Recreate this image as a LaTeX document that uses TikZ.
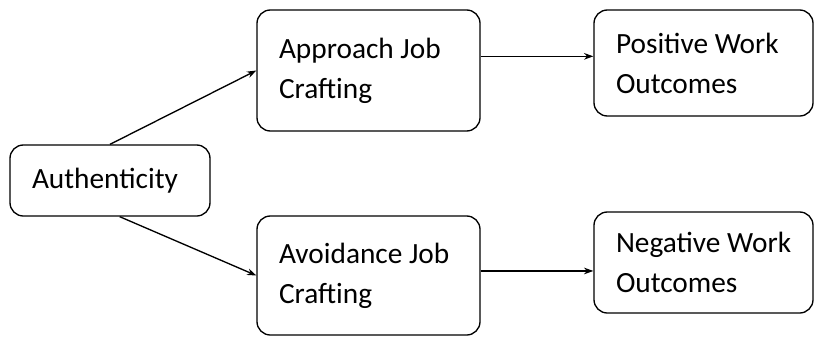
\documentclass[tikz,border=0pt]{standalone}
\usepackage{fontspec}
\setmainfont{Carlito}
\usetikzlibrary{arrows.meta}

\begin{document}
\begin{tikzpicture}[
    x=0.75pt, y=-0.75pt,
    box/.style={draw, line width=1pt, rounded corners=10pt, align=flush left, inner xsep=16.5pt, inner ysep=0pt, font=\fontsize{22}{30}\selectfont},
    arrow/.style={->, line width=1pt, >={Stealth[length=7pt, width=5pt]}}
]
\useasboundingbox (0,0) rectangle (817,336);

% Left node
\node[box, text width=117pt, minimum height=53.25pt] (auth) at (110,180.5) {Authenticity};

% Job crafting nodes
\node[box, text width=134.25pt, minimum height=90.75pt] (approach) at (368.5,70.5) {Approach Job\\Crafting};
\node[box, text width=134.25pt, minimum height=89.25pt] (avoid) at (368.5,275.5) {Avoidance Job\\Crafting};

% Outcome nodes
\node[box, text width=131.25pt, minimum height=79.5pt] (pos) at (703.5,63) {Positive Work\\Outcomes};
\node[box, text width=131.25pt, minimum height=75.75pt] (neg) at (703.5,262.5) {Negative Work\\Outcomes};

% Arrows
\draw[arrow] (auth.north) -- (approach.west);
\draw[arrow] (auth.-75) -- (avoid.west);
\draw[arrow] ([yshift=5pt]approach.east |- pos.west) -- ([yshift=5pt]pos.west);
\draw[arrow] ([yshift=3.4pt]avoid.east) -- ([yshift=3.4pt]avoid.east -| neg.west);

\end{tikzpicture}
\end{document}
